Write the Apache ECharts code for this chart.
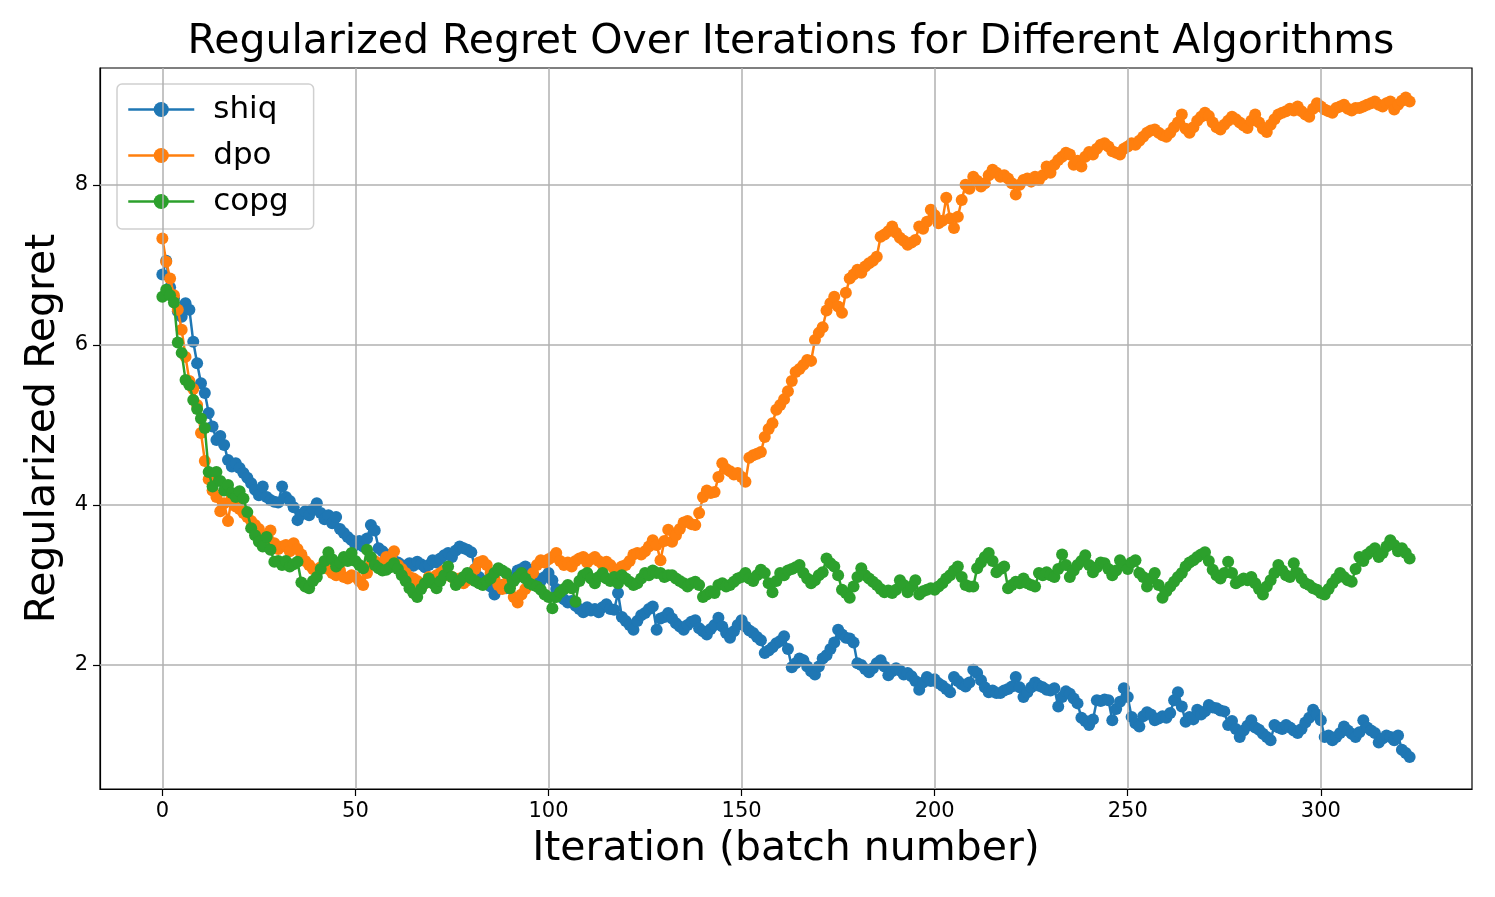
<!DOCTYPE html>
<html>
<head>
<meta charset="utf-8">
<script src="https://cdn.jsdelivr.net/npm/echarts@6/dist/echarts.min.js"></script>
<style>html,body{margin:0;padding:0;background:#fff;}#c{width:1495px;height:897px;}</style>
</head>
<body>
<div id="c"></div>
<script>
const xTicks = [0, 50, 100, 150, 200, 250, 300];
const yTicks = [2, 4, 6, 8];
const seriesNames = ['shiq', 'dpo', 'copg'];
const shiq = [
6.88,7.05,6.72,6.58,6.42,6.35,6.52,6.44,6.04,5.77,
5.52,5.40,5.15,4.98,4.81,4.86,4.75,4.56,4.48,4.52,
4.46,4.40,4.34,4.27,4.19,4.12,4.23,4.10,4.06,4.04,
4.03,4.23,4.10,4.05,3.97,3.81,3.88,3.92,3.87,3.95,
4.02,3.90,3.82,3.87,3.77,3.85,3.70,3.65,3.60,3.56,
3.50,3.55,3.48,3.58,3.75,3.68,3.46,3.42,3.38,3.35,
3.30,3.28,3.25,3.22,3.27,3.24,3.29,3.26,3.22,3.25,
3.31,3.28,3.33,3.37,3.40,3.35,3.43,3.48,3.46,3.44,
3.41,3.20,3.10,3.05,3.02,2.98,2.88,2.95,3.00,2.96,
3.02,3.10,3.18,3.20,3.23,3.19,3.12,3.08,3.05,3.10,
3.15,3.06,2.95,2.88,2.82,2.78,2.80,2.74,2.70,2.66,
2.72,2.68,2.70,2.66,2.72,2.76,2.70,2.69,2.90,2.60,
2.55,2.50,2.44,2.55,2.62,2.65,2.70,2.73,2.44,2.58,
2.60,2.65,2.58,2.52,2.48,2.44,2.50,2.54,2.56,2.46,
2.42,2.38,2.45,2.50,2.59,2.48,2.40,2.34,2.42,2.50,
2.56,2.48,2.43,2.40,2.35,2.31,2.15,2.18,2.22,2.27,
2.30,2.36,2.20,1.97,2.02,2.08,2.06,1.98,1.92,1.88,
1.98,2.08,2.12,2.20,2.28,2.44,2.38,2.34,2.33,2.28,
2.02,2.00,1.95,1.91,1.96,2.02,2.06,1.98,1.87,1.92,
1.96,1.93,1.88,1.90,1.86,1.80,1.69,1.78,1.85,1.80,
1.82,1.77,1.74,1.70,1.66,1.85,1.80,1.76,1.73,1.78,
1.94,1.90,1.81,1.72,1.66,1.68,1.65,1.65,1.68,1.70,
1.73,1.85,1.72,1.60,1.66,1.72,1.78,1.74,1.72,1.69,
1.68,1.71,1.48,1.60,1.67,1.64,1.58,1.52,1.34,1.30,
1.25,1.32,1.56,1.55,1.57,1.56,1.31,1.45,1.54,1.71,
1.60,1.35,1.27,1.23,1.36,1.41,1.38,1.31,1.33,1.36,
1.34,1.40,1.56,1.66,1.48,1.29,1.35,1.32,1.44,1.38,
1.42,1.50,1.47,1.46,1.43,1.42,1.25,1.30,1.20,1.10,
1.18,1.24,1.31,1.22,1.19,1.14,1.10,1.06,1.25,1.22,
1.20,1.25,1.22,1.18,1.15,1.20,1.28,1.34,1.44,1.38,
1.31,1.10,1.12,1.06,1.10,1.15,1.23,1.18,1.14,1.10,
1.16,1.31,1.22,1.18,1.15,1.03,1.08,1.12,1.10,1.06,
1.12,0.94,0.90,0.85];
const dpo = [
7.33,7.04,6.83,6.62,6.44,6.19,5.85,5.55,5.45,5.25,
4.90,4.55,4.32,4.18,4.10,3.92,4.02,3.80,4.10,3.98,
3.95,3.90,3.85,3.80,3.75,3.70,3.62,3.58,3.68,3.52,
3.45,3.48,3.50,3.42,3.52,3.45,3.38,3.30,3.25,3.20,
3.18,3.22,3.26,3.20,3.15,3.12,3.18,3.10,3.08,3.12,
3.10,3.05,3.00,3.15,3.25,3.30,3.22,3.28,3.35,3.30,
3.42,3.25,3.20,3.15,3.10,3.08,3.05,3.00,3.02,3.10,
3.08,3.12,3.15,3.18,3.12,3.10,3.05,3.08,3.02,3.06,
3.10,3.20,3.28,3.30,3.25,3.15,3.08,3.00,2.95,3.02,
2.98,2.85,2.78,2.88,2.95,3.05,3.15,3.25,3.31,3.28,
3.32,3.35,3.40,3.30,3.25,3.28,3.23,3.30,3.33,3.35,
3.28,3.32,3.35,3.30,3.26,3.29,3.25,3.20,3.18,3.23,
3.25,3.30,3.38,3.40,3.38,3.42,3.48,3.56,3.50,3.31,
3.55,3.69,3.54,3.62,3.70,3.78,3.80,3.76,3.75,3.90,
4.10,4.18,4.15,4.16,4.35,4.52,4.45,4.42,4.38,4.40,
4.35,4.29,4.59,4.62,4.64,4.66,4.85,4.95,5.02,5.19,
5.25,5.32,5.42,5.55,5.66,5.70,5.75,5.81,5.80,6.06,
6.15,6.22,6.43,6.52,6.60,6.48,6.40,6.65,6.83,6.88,
6.94,6.90,6.98,7.02,7.05,7.10,7.35,7.38,7.42,7.48,
7.40,7.34,7.30,7.25,7.28,7.31,7.48,7.45,7.54,7.69,
7.62,7.52,7.55,7.84,7.58,7.46,7.60,7.81,8.00,7.95,
8.10,8.05,7.98,8.02,8.12,8.19,8.15,8.10,8.12,8.08,
8.02,7.88,8.00,8.06,8.08,8.04,8.10,8.06,8.12,8.23,
8.15,8.25,8.31,8.35,8.40,8.38,8.25,8.30,8.23,8.35,
8.41,8.38,8.45,8.50,8.52,8.48,8.42,8.40,8.38,8.45,
8.48,8.52,8.50,8.55,8.60,8.65,8.68,8.69,8.65,8.62,
8.60,8.65,8.72,8.78,8.88,8.70,8.65,8.72,8.80,8.85,
8.90,8.86,8.78,8.72,8.69,8.75,8.80,8.85,8.82,8.78,
8.74,8.71,8.80,8.88,8.78,8.70,8.66,8.75,8.82,8.88,
8.90,8.92,8.95,8.93,8.98,8.92,8.88,8.85,8.95,9.02,
8.98,8.94,8.92,8.90,8.96,8.98,9.00,8.95,8.93,8.96,
8.96,8.98,9.00,9.02,9.04,9.00,8.98,9.02,9.04,8.94,
9.00,9.05,9.09,9.04];
const copg = [
6.60,6.69,6.62,6.53,6.03,5.90,5.56,5.50,5.31,5.20,
5.08,4.96,4.41,4.23,4.41,4.30,4.18,4.25,4.15,4.10,
4.17,4.08,3.91,3.71,3.62,3.54,3.48,3.60,3.44,3.29,
3.30,3.25,3.30,3.23,3.26,3.29,3.03,2.98,2.96,3.05,
3.10,3.20,3.30,3.41,3.32,3.23,3.28,3.35,3.30,3.40,
3.30,3.25,3.21,3.44,3.35,3.25,3.21,3.18,3.19,3.22,
3.27,3.20,3.12,3.05,2.96,2.90,2.85,2.95,3.02,3.08,
3.02,2.96,3.05,3.12,3.23,3.10,3.00,3.05,3.10,3.15,
3.08,3.05,3.02,3.00,3.05,3.08,3.15,3.21,3.18,3.15,
2.96,3.05,3.10,3.15,3.08,3.02,3.00,2.98,2.94,2.88,
2.85,2.71,2.85,2.91,2.95,3.00,2.96,2.79,3.05,3.12,
3.15,3.08,3.02,3.10,3.15,3.08,3.05,3.10,3.02,3.12,
3.08,3.04,3.00,3.02,3.08,3.15,3.12,3.18,3.15,3.15,
3.10,3.12,3.12,3.08,3.05,3.02,2.98,3.02,3.04,3.00,
2.85,2.88,2.92,2.90,3.00,3.02,2.98,3.00,3.04,3.08,
3.10,3.15,3.08,3.05,3.12,3.19,3.15,3.02,2.91,3.05,
3.15,3.12,3.18,3.20,3.22,3.25,3.15,3.08,3.02,3.06,
3.12,3.16,3.33,3.27,3.23,3.12,2.94,2.90,2.84,2.98,
3.10,3.21,3.12,3.08,3.04,3.00,2.95,2.91,2.93,2.90,
2.94,3.06,3.00,2.91,2.98,3.06,2.88,2.92,2.94,2.96,
2.94,2.98,3.02,3.08,3.12,3.18,3.23,3.10,3.00,2.98,
2.98,3.21,3.28,3.35,3.40,3.30,3.16,3.20,3.23,2.96,
3.00,3.04,3.02,3.08,3.02,3.00,2.98,3.15,3.12,3.16,
3.12,3.10,3.20,3.38,3.25,3.10,3.18,3.25,3.30,3.37,
3.25,3.16,3.22,3.28,3.27,3.20,3.12,3.18,3.31,3.25,
3.20,3.28,3.31,3.15,3.10,2.98,3.08,3.15,3.00,2.84,
2.92,2.98,3.04,3.10,3.15,3.23,3.28,3.31,3.35,3.38,
3.41,3.30,3.19,3.12,3.08,3.15,3.29,3.15,3.02,3.05,
3.08,3.06,3.10,3.02,2.95,2.88,2.98,3.06,3.15,3.25,
3.18,3.12,3.10,3.27,3.15,3.08,3.02,3.00,2.96,2.94,
2.90,2.88,2.95,3.02,3.08,3.15,3.10,3.06,3.04,3.20,
3.35,3.30,3.38,3.42,3.46,3.35,3.40,3.48,3.56,3.50,
3.42,3.46,3.40,3.33];
const colors = ['#1f77b4', '#ff7f0e', '#2ca02c'];
const values = [shiq, dpo, copg];
const FONT = 'DejaVu Sans';

const chart = echarts.init(document.getElementById('c'), null, {renderer: 'canvas'});
const series = seriesNames.map((name, k) => ({
  name: name,
  type: 'line',
  data: values[k].map((v, i) => [i, v]),
  symbol: 'circle',
  symbolSize: 12,
  showSymbol: true,
  lineStyle: {color: colors[k], width: 2.5},
  itemStyle: {color: colors[k]},
  emphasis: {disabled: true},
  animation: false,
  z: 3 + k
}));
series.push({
  type: 'line', data: [], silent: true, animation: false,
  markLine: {
    silent: true, symbol: ['none', 'none'], animation: false,
    label: {show: false},
    lineStyle: {color: '#b0b0b0', width: 1.5, type: 'solid'},
    data: xTicks.map(v => ({xAxis: v})).concat(yTicks.map(v => ({yAxis: v})))
  },
  z: 1
});
chart.setOption({
  animation: false,
  backgroundColor: '#fff',
  title: {
    text: 'Regularized Regret Over Iterations for Different Algorithms',
    left: 786, top: 17, textAlign: 'center',
    textStyle: {fontFamily: FONT, fontSize: 41, fontWeight: 'normal', color: '#000'}
  },
  legend: {
    data: seriesNames,
    orient: 'vertical',
    left: 117, top: 84,
    padding: [10, 25, 12, 10],
    itemGap: 15,
    itemWidth: 66, itemHeight: 19,
    lineStyle: {width: 2.5},
    backgroundColor: 'rgba(255,255,255,0.8)',
    borderColor: '#d0d0d0', borderWidth: 1.5, borderRadius: 5,
    textStyle: {fontFamily: FONT, fontSize: 31, color: '#000', padding: [0, 0, 0, 14]}
  },
  grid: {left: 100, top: 68, width: 1372, height: 721, show: true, borderColor: '#000', borderWidth: 1.2, backgroundColor: 'transparent'},
  xAxis: {
    type: 'value', min: -16.15, max: 339.15,
    name: 'Iteration (batch number)', nameLocation: 'middle', nameGap: 40,
    nameTextStyle: {fontFamily: FONT, fontSize: 41, color: '#000'},
    axisLine: {show: true, onZero: false, lineStyle: {color: '#000', width: 1.2}},
    axisTick: {show: true, customValues: xTicks, length: 7, lineStyle: {color: '#000', width: 1.2}},
    axisLabel: {customValues: xTicks, fontFamily: FONT, fontSize: 21, color: '#000', margin: 12},
    splitLine: {show: false}
  },
  yAxis: {
    type: 'value', min: 0.45, max: 9.46,
    name: 'Regularized Regret', nameLocation: 'middle', nameGap: 36, nameRotate: 90,
    nameTextStyle: {fontFamily: FONT, fontSize: 41, color: '#000'},
    axisLine: {show: true, onZero: false, lineStyle: {color: '#000', width: 1.2}},
    axisTick: {show: true, customValues: yTicks, length: 7, lineStyle: {color: '#000', width: 1.2}},
    axisLabel: {customValues: yTicks, fontFamily: FONT, fontSize: 21, color: '#000', margin: 12},
    splitLine: {show: false}
  },
  series: series
});
</script>
</body>
</html>
